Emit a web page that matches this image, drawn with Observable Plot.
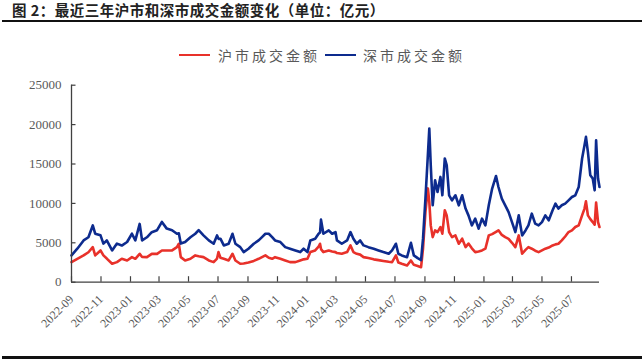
<!DOCTYPE html>
<html><head><meta charset="utf-8">
<script src="https://cdn.jsdelivr.net/npm/d3@7"></script>
<script src="https://cdn.jsdelivr.net/npm/@observablehq/plot@0.6"></script>
<style>
body{margin:0;background:#fff;}
#wrap{position:relative;width:644px;height:361px;overflow:hidden;background:#fff;}
#title{position:absolute;left:12px;top:2px;font-family:"Noto Sans CJK SC";font-weight:bold;font-size:14.5px;line-height:16px;color:#222;white-space:nowrap;letter-spacing:0.5px;}
.rule{position:absolute;left:2px;width:640px;background:#111;}
.sw{position:absolute;height:2px;}
.lt{position:absolute;font-family:"Noto Sans CJK SC";font-size:14px;line-height:16px;color:#595959;letter-spacing:3px;white-space:nowrap;}
#chart{position:absolute;left:0;top:68px;}
</style></head>
<body>
<div id="wrap">
  <div id="title">图 2：最近三年沪市和深市成交金额变化（单位：亿元）</div>
  <div class="rule" style="top:20px;height:2px;"></div>
  <div class="sw" style="left:179px;width:31px;top:54px;background:#e8312a;"></div>
  <div class="lt" style="left:218px;top:47px;">沪市成交金额</div>
  <div class="sw" style="left:325px;width:31px;top:54px;background:#0d2b8e;"></div>
  <div class="lt" style="left:363px;top:47px;">深市成交金额</div>
  <div id="chart"></div>
  <div class="rule" style="top:356px;height:3px;"></div>
</div>
<script>
const dates = [
"2022-09-01","2022-09-13","2022-09-26","2022-10-06","2022-10-15","2022-10-20","2022-10-31","2022-11-06","2022-11-13","2022-11-24",
"2022-12-04","2022-12-14","2022-12-25","2023-01-04","2023-01-11","2023-01-20","2023-01-25","2023-02-04","2023-02-14","2023-02-25",
"2023-03-07","2023-03-17","2023-03-28","2023-04-07","2023-04-11","2023-04-15","2023-04-24","2023-05-05","2023-05-15","2023-05-22",
"2023-06-01","2023-06-12","2023-06-22","2023-06-29","2023-07-02","2023-07-06","2023-07-13","2023-07-23","2023-07-31","2023-08-06",
"2023-08-16","2023-08-23","2023-09-02","2023-09-13","2023-09-23","2023-09-30","2023-10-07","2023-10-14","2023-10-21","2023-10-27",
"2023-11-07","2023-11-17","2023-11-27","2023-12-08","2023-12-18","2023-12-25","2024-01-02","2024-01-08","2024-01-18","2024-01-25",
"2024-01-28","2024-01-30","2024-02-04","2024-02-15","2024-02-22","2024-02-29","2024-03-03","2024-03-13","2024-03-24","2024-03-31",
"2024-04-06","2024-04-13","2024-04-20","2024-04-27","2024-05-07","2024-05-18","2024-05-28","2024-06-07","2024-06-18","2024-06-25",
"2024-07-03","2024-07-08","2024-07-15","2024-07-26","2024-08-03","2024-08-09","2024-08-17","2024-08-24","2024-08-28","2024-09-02",
"2024-09-07","2024-09-10","2024-09-13","2024-09-17","2024-09-22","2024-09-27","2024-10-03","2024-10-07","2024-10-12","2024-10-16",
"2024-10-21","2024-10-27","2024-11-03","2024-11-10","2024-11-17","2024-11-24","2024-11-30","2024-12-07","2024-12-14","2024-12-21",
"2024-12-28","2025-01-04","2025-01-11","2025-01-18","2025-01-26","2025-01-31","2025-02-07","2025-02-14","2025-02-21","2025-02-28",
"2025-03-07","2025-03-14","2025-03-21","2025-03-28","2025-04-03","2025-04-10","2025-04-17","2025-04-24","2025-05-01","2025-05-08",
"2025-05-15","2025-05-23","2025-05-29","2025-06-04","2025-06-11","2025-06-18","2025-06-25","2025-07-02","2025-07-09","2025-07-16",
"2025-07-23","2025-07-28","2025-07-31","2025-08-04","2025-08-09","2025-08-14","2025-08-18","2025-08-21","2025-08-25","2025-08-28"
];
// 沪市成交金额 (亿元)
const shValues = [
2550,2970,3400,3800,4450,3400,4030,3400,3000,2340,
2550,2970,2760,3180,2970,3600,3200,3180,3600,3600,
4030,4030,4030,4450,4880,3180,2760,2970,3400,3300,
3180,2760,2550,3000,3820,3100,2970,2760,3610,2760,
2340,2380,2500,2700,2970,3180,3400,3100,2970,3180,
2970,2760,2550,2550,2760,2900,2970,3820,4030,4500,
4880,4200,3820,4030,3900,3820,3700,3610,3820,4670,
3820,3600,3500,3180,3070,2900,2800,2700,2600,2550,
3400,2500,2340,2120,2760,2200,2060,1910,4250,8900,
11900,10200,7210,5720,6580,6360,7000,6150,9120,8480,
6360,5720,5940,4880,5520,4450,4900,4300,3820,3900,
4030,4250,5940,6100,6400,6580,6000,5720,5500,5000,
4450,5940,3610,4100,4450,4250,4000,3820,4030,4250,
4400,4670,4800,4880,5300,5800,6360,6570,7000,7210,
8480,9340,10260,8480,8000,7630,7300,10100,7630,7000
];
// 深市成交金额 (亿元)
const szValues = [
3400,4250,5300,5700,7200,6150,5950,4900,5300,4030,
4900,4650,5100,6150,5300,7400,5300,5700,6350,6600,
7650,6800,6600,6150,6200,4900,5100,5700,6150,6600,
5950,5300,4880,5940,5500,5520,4670,4880,6150,4880,
4450,3820,4250,4880,5300,5720,6150,6150,5720,5300,
5090,4450,4250,4030,3820,4250,3820,5300,5520,6150,
6300,7940,6150,6580,6150,6360,5300,4880,5300,6360,
5520,4880,5300,4670,4450,4250,4030,3820,3610,4030,
4880,3610,3400,3180,5010,3400,3050,2800,5520,10600,
16100,19500,14850,9760,12940,11450,13360,11030,15700,14850,
11030,10390,11030,9760,11030,9340,8480,7210,8060,6790,
8060,7210,9760,11880,13480,12080,10600,9760,8900,7630,
6360,8480,5940,6570,7210,8700,7430,7210,7630,8480,
7850,9120,9970,9340,9760,9970,10390,10810,11030,12080,
15700,17390,18440,16540,13570,13150,11660,18020,13150,12080
];
const seriesNames = ["沪市成交金额","深市成交金额"];
const seriesColors = ["#e8312a","#0d2b8e"];
const xTickLabels = ["2022-09","2022-11","2023-01","2023-03","2023-05","2023-07","2023-09","2023-11","2024-01","2024-03","2024-05","2024-07","2024-09","2024-11","2025-01","2025-03","2025-05","2025-07"];
const yTicks = [0,5000,10000,15000,20000,25000];
const xDomain = ["2022-09-01","2025-08-28"];

const parse = d3.utcParse("%Y-%m-%d");
const parseM = d3.utcParse("%Y-%m");
const rows = [];
dates.forEach((d,i)=>{
  rows.push({date: parse(d), value: shValues[i], series: seriesNames[0]});
});
dates.forEach((d,i)=>{
  rows.push({date: parse(d), value: szValues[i], series: seriesNames[1]});
});
const xTicks = xTickLabels.map(parseM);
const x0 = parse(xDomain[0]), x1 = parse(xDomain[1]);

const W = 644, H = 293, mL = 71, mR = 45, mT = 16.7, mB = 79.3;
const innerW = W - mL - mR, innerH = H - mT - mB;
const axisColor = "#404040";

const chart = Plot.plot({
  width: W, height: H,
  marginLeft: mL, marginRight: mR, marginTop: mT, marginBottom: mB,
  x: {type: "utc", domain: [x0, x1], label: null},
  y: {domain: [0, 25000], label: null},
  color: {domain: seriesNames, range: seriesColors},
  style: {fontFamily: '"Liberation Serif", "Times New Roman", serif', fontSize: "12px", color: "#595959", background: "transparent", overflow: "visible"},
  marks: [
    Plot.axisY(yTicks, {tickSize: 0, tickPadding: 10, tickFormat: d3.format("d"), fontSize: 13, label: null}),
    Plot.axisX(xTicks, {tickSize: 0, tickPadding: 15, tickRotate: -45, tickFormat: d3.utcFormat("%Y-%m"), fontSize: 12, label: null}),
    Plot.line(rows.filter(r => r.series === seriesNames[0]), {x: "date", y: "value", stroke: "series", strokeWidth: 2.6, curve: "linear"}),
    Plot.line(rows.filter(r => r.series === seriesNames[1]), {x: "date", y: "value", stroke: "series", strokeWidth: 2.6, curve: "linear"}),
    Plot.ruleY([0], {stroke: axisColor, strokeWidth: 1.3}),
    Plot.ruleX([x0], {stroke: axisColor, strokeWidth: 1.3}),
    Plot.tickX(xTicks, {x: d => d, stroke: axisColor, strokeWidth: 1.2, insetTop: innerH - 5.5}),
    Plot.tickY(yTicks, {y: d => d, stroke: axisColor, strokeWidth: 1.2, insetRight: innerW - 4.5})
  ]
});
document.getElementById("chart").appendChild(chart);
</script>
</body></html>
